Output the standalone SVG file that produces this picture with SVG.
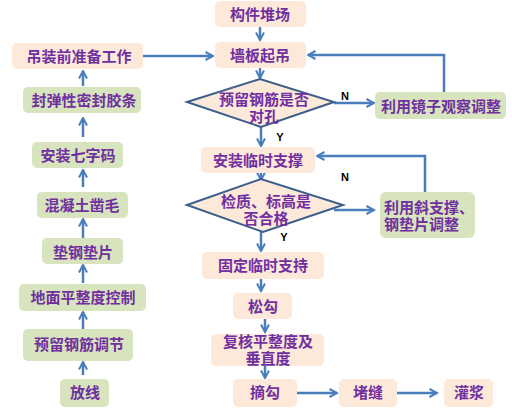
<svg xmlns="http://www.w3.org/2000/svg" width="512" height="417" viewBox="0 0 512 417">
<defs>
<style>
.p{fill:#FDE9D9}
.g{fill:#D7E4BD}
.d{fill:#FDE9D9;stroke:#3B5E8C;stroke-width:2}
text{font-family:"Liberation Sans","Noto Sans CJK SC",sans-serif;font-weight:bold;font-size:15px;fill:#7030A0;text-anchor:middle;dominant-baseline:central}
.lb{font-family:"Liberation Sans",Arial,sans-serif;font-size:11px;fill:#000}
.c{fill:none;stroke:#4A7EBB;stroke-width:2.5;marker-end:url(#ah)}
</style>
<marker id="ah" viewBox="0 0 10 10" refX="8.5" refY="5" markerWidth="4" markerHeight="4" orient="auto" markerUnits="strokeWidth">
<polyline points="1,1 8.5,5 1,9" fill="none" stroke="#4A7EBB" stroke-width="2"/>
</marker>
</defs>
<rect width="512" height="417" fill="#fff"/>
<g id="connectors">
<path class="c" d="M260 27 V40"/>
<path class="c" d="M260 68 V78"/>
<path class="c" d="M334 103 H374"/>
<path class="c" d="M444 92 V55 H308"/>
<path class="c" d="M261 127 V146"/>
<path class="c" d="M261 173 V180"/>
<path class="c" d="M334 210 H374"/>
<path class="c" d="M425 192 V156 H317"/>
<path class="c" d="M261 232 V251"/>
<path class="c" d="M261 279 V291"/>
<path class="c" d="M265 319 V332"/>
<path class="c" d="M265 366 V378"/>
<path class="c" d="M297 393 H337"/>
<path class="c" d="M397 393 H437"/>
<path class="c" d="M143 56 H213"/>
<path class="c" d="M83 375 V362"/>
<path class="c" d="M83 329 V312"/>
<path class="c" d="M83 283 V265"/>
<path class="c" d="M83 238 V219"/>
<path class="c" d="M83 187 V170"/>
<path class="c" d="M83 137 V118"/>
<path class="c" d="M83 86 V71"/>
<text class="lb" x="345" y="96">N</text>
<text class="lb" x="280" y="137">Y</text>
<text class="lb" x="345" y="177">N</text>
<text class="lb" x="284" y="237">Y</text>
</g>
<g id="n1"><rect class="p" x="215" y="1" width="91" height="26" rx="5"/><text x="260" y="14">构件堆场</text></g>
<g id="n2"><rect class="p" x="215" y="42" width="91" height="26" rx="5"/><text x="260" y="55">墙板起吊</text></g>
<g id="d1"><polygon class="d" points="187,102 260,79 334,102 261,127"/><text x="264" y="99">预留钢筋是否</text><text x="264" y="116">对孔</text></g>
<g id="n3"><rect class="g" x="375" y="92" width="131" height="27" rx="5"/><text x="441" y="106">利用镜子观察调整</text></g>
<g id="n4"><rect class="p" x="201" y="147" width="114" height="26" rx="5"/><text x="258" y="160">安装临时支撑</text></g>
<g id="d2"><polygon class="d" points="187,205 261,179 343,205 263,232"/><text x="266" y="201">检质、标高是</text><text x="266" y="218">否合格</text></g>
<g id="n5"><rect class="g" x="380" y="192" width="95" height="46" rx="6"/><text x="384" y="207" style="text-anchor:start">利用斜支撑、</text><text x="384" y="224" style="text-anchor:start">钢垫片调整</text></g>
<g id="n6"><rect class="p" x="202" y="252" width="122" height="27" rx="5"/><text x="263" y="265">固定临时支持</text></g>
<g id="n7"><rect class="p" x="233" y="293" width="59" height="26" rx="5"/><text x="263" y="306">松勾</text></g>
<g id="n8"><rect class="p" x="211" y="334" width="113" height="32" rx="5"/><text x="268" y="341">复核平整度及</text><text x="268" y="358">垂直度</text></g>
<g id="n9"><rect class="p" x="233" y="379" width="64" height="28" rx="5"/><text x="265" y="392">摘勾</text></g>
<g id="n10"><rect class="p" x="339" y="379" width="58" height="28" rx="5"/><text x="368" y="392">堵缝</text></g>
<g id="n11"><rect class="p" x="444" y="379" width="49" height="28" rx="5"/><text x="469" y="392">灌浆</text></g>
<g id="l1"><rect class="p" x="12" y="43" width="131" height="26" rx="5"/><text x="79" y="56">吊装前准备工作</text></g>
<g id="l2"><rect class="g" x="23" y="87" width="118" height="26" rx="5"/><text x="84" y="100">封弹性密封胶条</text></g>
<g id="l3"><rect class="g" x="32" y="142" width="91" height="26" rx="5"/><text x="78" y="155">安装七字码</text></g>
<g id="l4"><rect class="g" x="37" y="192" width="91" height="26" rx="5"/><text x="82" y="205">混凝土凿毛</text></g>
<g id="l5"><rect class="g" x="42" y="238" width="81" height="26" rx="5"/><text x="83" y="252">垫钢垫片</text></g>
<g id="l6"><rect class="g" x="19" y="284" width="127" height="27" rx="5"/><text x="83" y="297">地面平整度控制</text></g>
<g id="l7"><rect class="g" x="23" y="329" width="110" height="32" rx="5"/><text x="79" y="344">预留钢筋调节</text></g>
<g id="l8"><rect class="g" x="60" y="379" width="49" height="28" rx="5"/><text x="85" y="392">放线</text></g>
</svg>
